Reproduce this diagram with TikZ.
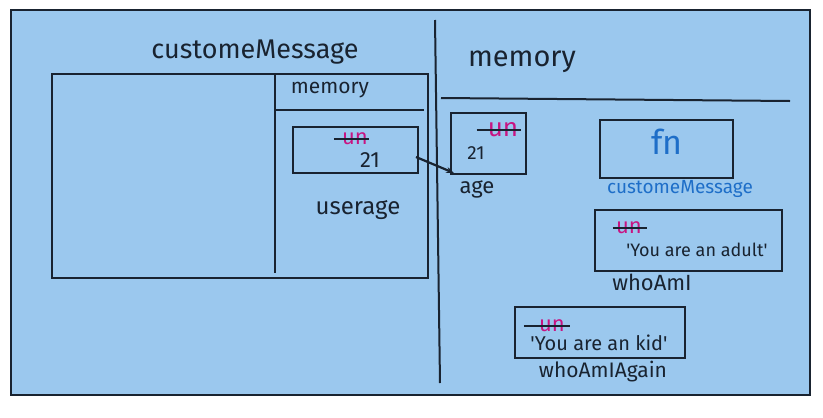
\documentclass[tikz,border=0pt]{standalone}
\usepackage{fontspec}
\setmainfont{Fira Sans}
\usetikzlibrary{arrows.meta}
\definecolor{tafel}{RGB}{155,200,238}
\definecolor{strich}{RGB}{25,35,48}
\definecolor{fnblau}{RGB}{30,110,200}
\definecolor{altfarbe}{RGB}{200,20,130}
\tikzset{
  kasten/.style={draw=strich, line width=2pt, inner sep=0pt},
  linie/.style={draw=strich, line width=2pt},
  alttext/.style={text=altfarbe, font=\fontsize{22}{22}\selectfont, inner sep=1pt},
  wert/.style={text=strich, font=\fontsize{18}{18}\selectfont, inner sep=1pt},
  etikett/.style={text=strich, font=\fontsize{22}{22}\selectfont, inner sep=1pt},
}
\begin{document}
\begin{tikzpicture}[x=1pt,y=-1pt]
    \useasboundingbox (0,0) rectangle (823,418);
    % Rahmen
    \draw[linie, fill=tafel] (11,10) rectangle (810,395);
    \coordinate (trennoben) at (435,20);
    \coordinate (trennunten) at (440,383);
    \draw[linie] (trennoben) -- (trennunten);
    % Funktion customeMessage
    \node[etikett, font=\fontsize{27}{27}\selectfont] (titel) at (255,52) {customeMessage};
    \node[kasten, minimum width=376, minimum height=204] (ctx) at (240,176) {};
    \coordinate (ctxtrenn) at (275,74);
    \draw[linie] (ctxtrenn) -- (275,273);
    \node[etikett, font=\fontsize{21}{21}\selectfont] (ctxmem) at (330,90) {memory};
    \draw[linie] (275,110) -- (424,110);
    \node[kasten, minimum width=125, minimum height=46] (userage) at (355.5,150) {};
    \node[alttext] (u1) at (355,139) {un};
    \draw[linie, line width=1.8pt] ([xshift=-7pt]u1.west) -- (u1.east);
    \node[wert, font=\fontsize{22}{22}\selectfont] (w1) at (370,160) {21};
    \node[etikett, font=\fontsize{24}{24}\selectfont] (n1) at (358,210) {userage};
    % Speicher global
    \node[etikett, font=\fontsize{29}{29}\selectfont] (mem) at (522,62) {memory};
    \draw[linie] (441,98) -- (790,101);
    \node[kasten, minimum width=75, minimum height=61] (age) at (488.5,143.5) {};
    \node[alttext, font=\fontsize{26}{26}\selectfont] (u2) at (503,130) {un};
    \draw[linie, line width=1.8pt] ([xshift=-10pt]u2.west) -- ([xshift=2pt]u2.east);
    \node[wert, font=\fontsize{19}{19}\selectfont] (w2) at (476,153) {21};
    \node[etikett] (n2) at (477,189) {age};
    \draw[linie, line width=2.2pt, -{Stealth[length=8pt]}] ([shift={(-3,7)}]userage.east) -- ([shift={(4,-2)}]age.south west);
    \node[kasten, minimum width=133, minimum height=58] (fn) at (666.5,149) {};
    \node[text=fnblau, font=\fontsize{34}{34}\selectfont] (fntext) at (667,142) {fn};
    \node[text=fnblau, font=\fontsize{19}{19}\selectfont, inner sep=1pt] (n3) at (680,189) {customeMessage};
    \node[kasten, minimum width=187, minimum height=61] (adult) at (688.5,240.5) {};
    \node[alttext] (u3) at (629,228) {un};
    \draw[linie, line width=1.8pt] ([xshift=-2pt]u3.west) -- ([xshift=4pt]u3.east);
    \node[wert] (w3) at (697,250) {\textquotesingle You are an adult\textquotesingle};
    \node[etikett] (n4) at (652,282) {whoAmI};
    \node[kasten, minimum width=170, minimum height=51] (kid) at (600,332.5) {};
    \node[alttext] (u4) at (552,326) {un};
    \draw[linie, line width=1.8pt] ([xshift=-14pt]u4.west) -- ([xshift=4pt]u4.east);
    \node[wert, font=\fontsize{20}{20}\selectfont] (w4) at (599,343) {\textquotesingle You are an kid\textquotesingle};
    \node[etikett, font=\fontsize{21}{21}\selectfont] (n5) at (603,372) {whoAmIAgain};
\end{tikzpicture}
\end{document}
